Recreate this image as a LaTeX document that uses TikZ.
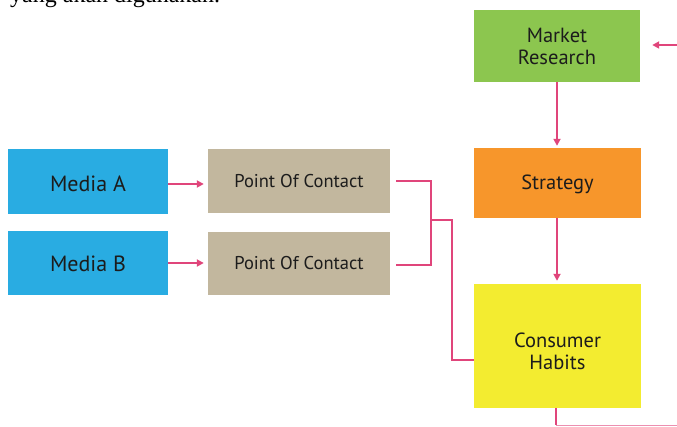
\documentclass[tikz,border=0pt]{standalone}
\usepackage{fontspec}
\setmainfont{PT Sans}
\newfontfamily\serifface{Liberation Serif}
\usetikzlibrary{arrows.meta,calc}
\definecolor{mgreen}{HTML}{8CC64F}
\definecolor{morange}{HTML}{F7962B}
\definecolor{myellow}{HTML}{F3EC30}
\definecolor{mblue}{HTML}{29ACE2}
\definecolor{mtan}{HTML}{C2B79E}
\definecolor{mpink}{HTML}{E0457B}
\definecolor{mtext}{HTML}{1C1C1C}
\begin{document}
\begin{tikzpicture}[x=1pt,y=-1pt,
  box/.style={draw=none, inner sep=0pt, align=center, text=mtext, font=\fontsize{20.5}{22}\selectfont},
  link/.style={draw=mpink, line width=2.3pt},
  arr/.style={link, -{Triangle[length=7pt,width=7pt]}},
]
\useasboundingbox (0,0) rectangle (677,427);
\clip (0,0) rectangle (677,427);
\node[anchor=base west, inner sep=0pt, font=\serifface\fontsize{24}{26}\selectfont] (top) at (10,2.5) {yang akan digunakan.};

\node[box, fill=mgreen, minimum width=166pt, minimum height=72pt] (mr) at (557,46) {Market\\Research};
\node[box, fill=morange, minimum width=167pt, minimum height=70pt] (st) at (557.5,183) {\raisebox{-1pt}[\height][\depth]{Strategy}};
\node[box, fill=myellow, minimum width=167pt, minimum height=124pt] (ch) at (557.5,346) {\raisebox{-8pt}[\height][\depth]{\begin{tabular}{@{}c@{}}Consumer\\Habits\end{tabular}}};
\node[box, fill=mblue, minimum width=160pt, minimum height=65pt, font=\fontsize{22}{24}\selectfont] (ma) at (88,181.5) {\raisebox{-2pt}[\height][\depth]{Media A}};
\node[box, fill=mblue, minimum width=160pt, minimum height=64pt, font=\fontsize{22}{24}\selectfont] (mb) at (88,263) {\raisebox{-1pt}[\height][\depth]{Media B}};
\node[box, fill=mtan, minimum width=182pt, minimum height=64pt, font=\fontsize{18.5}{20}\selectfont] (p1) at (299,181) {Point Of Contact};
\node[box, fill=mtan, minimum width=182pt, minimum height=63pt, font=\fontsize{18.5}{20}\selectfont] (p2) at (299,263.5) {Point Of Contact};

\coordinate (inr) at (677,45);
\coordinate (b1) at (431,181);
\coordinate (b2) at (431,265);
\coordinate (j) at (431,220);
\coordinate (j2) at (452,220);
\coordinate (j3) at (452,360);
\coordinate (bend) at (556,425);
\coordinate (bout) at (677,425);

\draw[arr, shorten >=4pt] ($(ma.east)+(0,2.5)$) -- ($(ma.east -| p1.west)+(0,2.5)$);
\draw[arr, shorten >=4pt] (mb.east) -- (mb.east -| p2.west);
\draw[arr, shorten >=2pt] (mr.south -| 557,0) -- (st.north -| 557,0);
\draw[arr, shorten >=3pt] (st.south -| 557,0) -- (ch.north -| 557,0);
\draw[arr, shorten >=12pt] (inr) -- (inr -| mr.east);
\draw[link] ($(p1.east |- b1)+(6,0)$) -- (b1) -- (b2) -- ($(p2.east |- b2)+(6,0)$);
\draw[link] (j) -- (j2) -- (j3) -- (j3 -| ch.west);
\draw[link] (ch.south -| bend) -- (bend);
\draw[draw=mpink!60, line width=1pt] (bend) -- (bout);
\end{tikzpicture}
\end{document}
